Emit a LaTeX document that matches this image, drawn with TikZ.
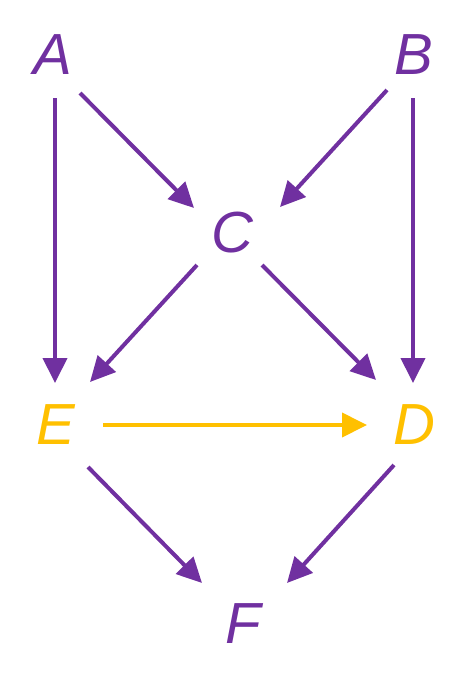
\documentclass[tikz,border=0pt]{standalone}
\usepackage{fontspec}
\setmainfont{Liberation Sans}
\usetikzlibrary{arrows.meta,calc}
\definecolor{purp}{HTML}{7030A0}
\definecolor{yel}{HTML}{FFC000}
\begin{document}
\begin{tikzpicture}[x=1pt,y=-1pt,
  lbl/.style={inner sep=0pt,font=\fontsize{58}{60}\selectfont\itshape},
  arr/.style={line width=4pt,-{Triangle[length=25pt,width=24pt]}}]
\useasboundingbox (0,0) rectangle (469,694);
\node[lbl,text=purp] (A) at (53,55) {A};
\node[lbl,text=purp] (B) at (414,55) {B};
\node[lbl,text=purp] (C) at (232,233) {C};
\node[lbl,text=yel] (E) at (56,425) {E};
\node[lbl,text=yel] (D) at (414,425) {D};
\node[lbl,text=purp] (F) at (243,624) {F};
\begin{scope}[purp]
\draw[arr] ($(A)+(2,43)$) -- ($(E)+(-1,-42)$);
\draw[arr] ($(A)+(27,38)$) -- ($(C)+(-38,-25)$);
\draw[arr] ($(B)+(-27,35)$) -- ($(C)+(48,-26)$);
\draw[arr] ($(B)+(-1,43)$) -- ($(D)+(-1,-42)$);
\draw[arr] ($(C)+(-35,32)$) -- ($(E)+(34,-43)$);
\draw[arr] ($(C)+(30,32)$) -- ($(D)+(-38,-45)$);
\draw[arr] ($(E)+(32,42)$) -- ($(F)+(-41,-41)$);
\draw[arr] ($(D)+(-20,40)$) -- ($(F)+(44,-41)$);
\end{scope}
\draw[arr,yel] ($(E)+(47,0)$) -- ($(D)+(-47,0)$);
\end{tikzpicture}
\end{document}
